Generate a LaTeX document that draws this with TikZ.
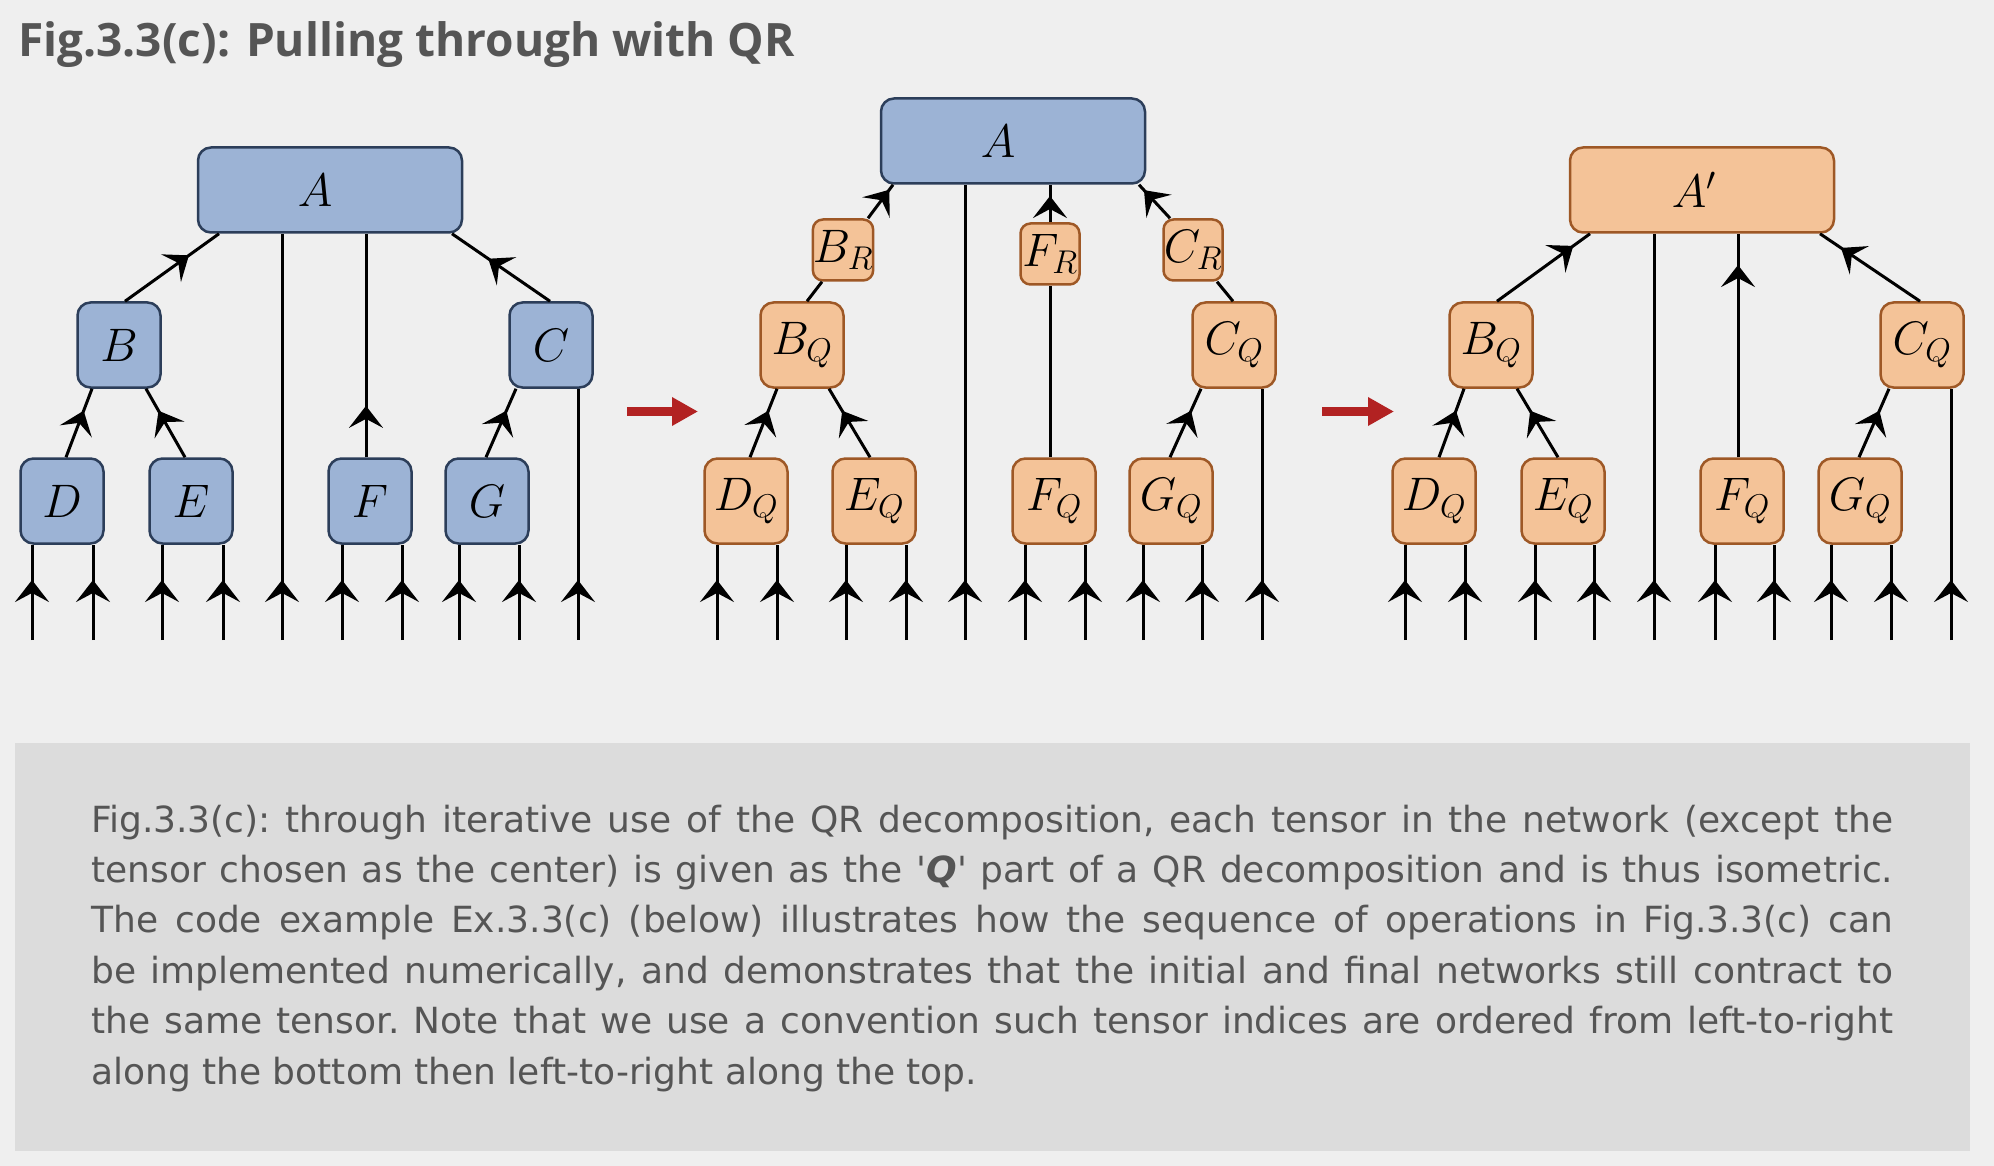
\documentclass[tikz,border=0pt]{standalone}
\usepackage{fix-cm}
\usepackage{fontspec}
\newfontfamily\titlefont{Open Sans}
\newfontfamily\capfont{DejaVu Sans}
\usetikzlibrary{arrows.meta,calc,decorations.markings}
\definecolor{pagebg}{RGB}{239,239,239}
\definecolor{capbg}{RGB}{220,220,220}
\definecolor{inkgray}{RGB}{85,85,85}
\definecolor{tblue}{RGB}{156,179,213}
\definecolor{tbluedraw}{RGB}{44,62,90}
\definecolor{torange}{RGB}{244,195,152}
\definecolor{torangedraw}{RGB}{158,88,38}
\definecolor{pullred}{RGB}{178,34,34}
\newcommand{\tensorfont}{\fontsize{47}{47}\selectfont}
\tikzset{tipq/.tip={Stealth[length=22pt, width=34pt, inset=9pt]}}

\begin{document}
\begin{tikzpicture}[
    x=1pt, y=-1pt,
    tensor/.style={rectangle, rounded corners=13pt, line width=2.5pt, inner sep=0pt, font=\tensorfont},
    orig/.style={tensor, draw=tbluedraw, fill=tblue},
    iso/.style={tensor, draw=torangedraw, fill=torange},
    small/.style={minimum width=83pt, minimum height=85pt},
    wide/.style={minimum width=264pt, minimum height=85pt},
    rpart/.style={minimum width=59pt, minimum height=61pt, rounded corners=10pt},
    bond/.style={line width=3pt},
    flow/.style={bond, postaction={decorate}, decoration={markings, mark=at position #1 with {\arrow{tipq}}}},
    leg/.style={bond, postaction={decorate}, decoration={markings, mark=at position 60pt with {\arrow{tipq}}}},
    pull/.style={line width=9pt, draw=pullred, -{Triangle[length=26pt, width=27pt]}}
]
    \useasboundingbox (0,0) rectangle (1994,1166);
    \fill[pagebg] (0,0) rectangle (1994,1166);

    % Title
    \node[anchor=base west, inner sep=0pt, text=inkgray, font=\titlefont\bfseries\fontsize{46}{46}\selectfont] (title) at (18,57) {Fig.3.3(c): Pulling through with QR};

    % Initial network
    \node[orig, wide] (A) at (330,190) {$A$\hspace*{30pt}};
    \node[orig, small] (B) at (119,345) {$B$};
    \node[orig, small] (C) at (551,345) {$C$};
    \node[orig, small] (D) at (62,501) {$D$};
    \node[orig, small] (E) at (191,501) {$E$};
    \node[orig, small] (F) at (370,501) {$F$};
    \node[orig, small] (G) at (487,501) {$G$};

    \draw[flow=0.68] ([xshift=6pt]B.north) -- ([xshift=-111pt]A.south);
    \draw[flow=0.63] ([xshift=-1pt]C.north) -- ([xshift=122pt]A.south);
    \draw[flow=0.23] ([xshift=-4pt]F.north) -- ([xshift=36pt]A.south);
    \draw[flow=0.68] ([xshift=4pt]D.north) -- ([xshift=-27pt]B.south);
    \draw[flow=0.68] ([xshift=-6pt]E.north) -- ([xshift=27pt]B.south);
    \draw[flow=0.68] ([xshift=-1pt]G.north) -- ([xshift=-35pt]C.south);
    \foreach \x/\n [count=\i] in {32/D,93/D,162/E,223/E,282/A,342/F,402/F,459/G,519/G,578/C}{
        \coordinate (a\i) at (\x,640);
        \draw[leg] (a\i) -- (a\i |- \n.south);
    }

    % Arrow 1
    \coordinate (p1s) at (627,411.5);
    \coordinate (p1e) at (698,411.5);
    \draw[pull] (p1s) -- (p1e);

    % After QR
    \node[orig, wide] (mA) at (1013,141) {$A$\hspace*{30pt}};
    \node[iso, rpart] (mBR) at (843,250) {$B_R$};
    \node[iso, rpart] (mFR) at (1050,254) {$F_R$};
    \node[iso, rpart] (mCR) at (1193,250) {$C_R$};
    \node[iso, small] (mBQ) at (802,345) {$B_Q$};
    \node[iso, small] (mCQ) at (1234,345) {$C_Q$};
    \node[iso, small] (mDQ) at (746,501) {$D_Q$};
    \node[iso, small] (mEQ) at (874,501) {$E_Q$};
    \node[iso, small] (mFQ) at (1054,501) {$F_Q$};
    \node[iso, small] (mGQ) at (1171,501) {$G_Q$};

    \draw[bond] ([xshift=5pt]mBQ.north) -- ([xshift=-21pt]mBR.south);
    \draw[flow=0.85] ([xshift=25pt]mBR.north) -- ([xshift=-120pt]mA.south);
    \draw[bond] ([xshift=-4pt]mFQ.north) -- (mFR.south);
    \draw[flow=0.7] (mFR.north) -- ([xshift=37pt]mA.south);
    \draw[bond] ([xshift=-1pt]mCQ.north) -- ([xshift=24pt]mCR.south);
    \draw[flow=0.84] ([xshift=-23pt]mCR.north) -- ([xshift=126pt]mA.south);
    \draw[flow=0.68] ([xshift=4pt]mDQ.north) -- ([xshift=-25pt]mBQ.south);
    \draw[flow=0.68] ([xshift=-4pt]mEQ.north) -- ([xshift=27pt]mBQ.south);
    \draw[flow=0.68] ([xshift=-1pt]mGQ.north) -- ([xshift=-33pt]mCQ.south);
    \foreach \x/\n [count=\i] in {717/mDQ,777/mDQ,846/mEQ,906/mEQ,965/mA,1025/mFQ,1085/mFQ,1143/mGQ,1202/mGQ,1262/mCQ}{
        \coordinate (b\i) at (\x,640);
        \draw[leg] (b\i) -- (b\i |- \n.south);
    }

    % Arrow 2
    \coordinate (p2s) at (1322,411.5);
    \coordinate (p2e) at (1394,411.5);
    \draw[pull] (p2s) -- (p2e);

    % Final network
    \node[iso, wide] (rA) at (1702,190) {$A'$\hspace*{16pt}};
    \node[iso, small] (rBQ) at (1491,345) {$B_Q$};
    \node[iso, small] (rCQ) at (1922,345) {$C_Q$};
    \node[iso, small] (rDQ) at (1434,501) {$D_Q$};
    \node[iso, small] (rEQ) at (1563,501) {$E_Q$};
    \node[iso, small] (rFQ) at (1742,501) {$F_Q$};
    \node[iso, small] (rGQ) at (1860,501) {$G_Q$};

    \draw[flow=0.82] ([xshift=6pt]rBQ.north) -- ([xshift=-112pt]rA.south);
    \draw[flow=0.79] ([xshift=-2pt]rCQ.north) -- ([xshift=118pt]rA.south);
    \draw[flow=0.86] ([xshift=-4pt]rFQ.north) -- ([xshift=36pt]rA.south);
    \draw[flow=0.68] ([xshift=5pt]rDQ.north) -- ([xshift=-27pt]rBQ.south);
    \draw[flow=0.68] ([xshift=-5pt]rEQ.north) -- ([xshift=26pt]rBQ.south);
    \draw[flow=0.68] ([xshift=-1pt]rGQ.north) -- ([xshift=-33pt]rCQ.south);
    \foreach \x/\n [count=\i] in {1405/rDQ,1465/rDQ,1535/rEQ,1594/rEQ,1654/rA,1715/rFQ,1774/rFQ,1831/rGQ,1891/rGQ,1951/rCQ}{
        \coordinate (c\i) at (\x,640);
        \draw[leg] (c\i) -- (c\i |- \n.south);
    }

    % Caption
    \fill[capbg] (15,743) rectangle (1970,1151);
    \node[anchor=north west, inner sep=0pt, text width=1802pt, align=justify, text=inkgray,
          font=\capfont\fontsize{36}{50.4}\selectfont] (caption) at (91,796.7)
        {\frenchspacing\tolerance=10000\hyphenpenalty=10000\strut Fig.3.3(c): through iterative use of the QR decomposition, each tensor in the network (except the\linebreak
         tensor chosen as the center) is given as the \textquotesingle\textbf{\textit{Q}}\textquotesingle{} part of a QR decomposition and is thus isometric.\linebreak
         The code example Ex.3.3(c) (below) illustrates how the sequence of operations in Fig.3.3(c) can\linebreak
         be implemented numerically, and demonstrates that the initial and final networks still contract to\linebreak
         the same tensor. Note that we use a convention such tensor indices are ordered from left-to-right\linebreak
         along the bottom then left-to-right along the top.};
\end{tikzpicture}
\end{document}
